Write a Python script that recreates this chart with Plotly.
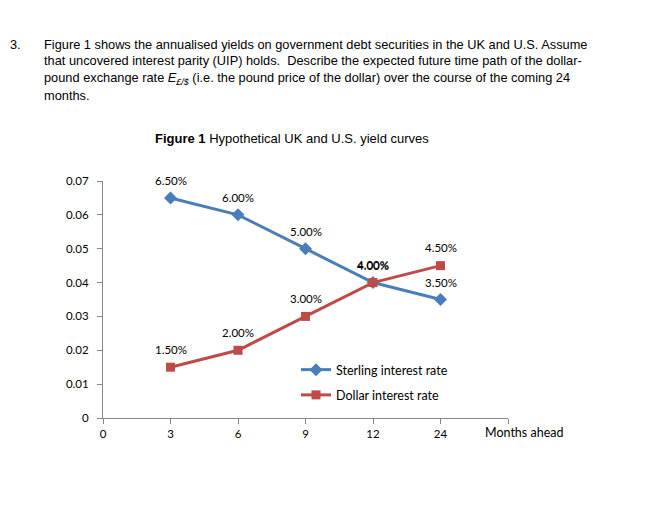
import plotly.graph_objects as go

# ---- data ----
month_labels = ["0", "3", "6", "9", "12", "24"]
months = ["3", "6", "9", "12", "24"]
sterling = [0.065, 0.06, 0.05, 0.04, 0.035]
dollar = [0.015, 0.02, 0.03, 0.04, 0.045]
sterling_labels = ["6.50%", "6.00%", "5.00%", "4.00%", "3.50%"]
dollar_labels = ["1.50%", "2.00%", "3.00%", "4.00%", "4.50%"]
y_ticks = [0, 0.01, 0.02, 0.03, 0.04, 0.05, 0.06, 0.07]
y_ticktext = ["0", "0.01", "0.02", "0.03", "0.04", "0.05", "0.06", "0.07"]

question_lines = [
    "Figure 1 shows the annualised yields on government debt securities in the UK and U.S. Assume",
    "that uncovered interest parity (UIP) holds.  Describe the expected future time path of the dollar-",
    "pound exchange rate <i>E</i><sub><i>£/$</i></sub> (i.e. the pound price of the dollar) over the course of the coming 24",
    "months.",
]

BLUE = "#4A7EBB"
RED = "#BE4B48"
W, H = 655, 506
L, R, T, B = 103, 147, 181, 88
PW, PH = W - L - R, H - T - B
CF = "Lato"


def px(xp):
    return (xp - L) / PW


def py(yp):
    return (H - B - yp) / PH


xpos = {lab: i for i, lab in enumerate(month_labels)}
xs = [xpos[m] for m in months]

fig = go.Figure()
fig.add_trace(go.Scatter(
    x=xs, y=sterling, mode="lines+markers", name="Sterling interest rate",
    line=dict(color=BLUE, width=3), marker=dict(symbol="diamond", size=10, color=BLUE),
    legendgroup="a",
))
fig.add_trace(go.Scatter(
    x=xs, y=dollar, mode="lines+markers", name="Dollar interest rate",
    line=dict(color=RED, width=3), marker=dict(symbol="square", size=9, color=RED),
    legendgroup="b",
))

annos = []
for x, y, t in zip(xs, sterling, sterling_labels):
    annos.append(dict(x=x, y=y, xref="x", yref="y", text=t, showarrow=False,
                      yshift=17, font=dict(family=CF, size=11.5, color="#000000")))
for x, y, t in zip(xs, dollar, dollar_labels):
    annos.append(dict(x=x, y=y, xref="x", yref="y", text=t, showarrow=False,
                      yshift=18, font=dict(family=CF, size=11.5, color="#000000")))

# axis title
annos.append(dict(x=px(483), y=py(432), xref="paper", yref="paper", text="Months ahead",
                  showarrow=False, xanchor="left", yanchor="middle",
                  font=dict(family=CF, size=12.5, color="#000000")))
# chart title
annos.append(dict(x=px(153), y=py(138), xref="paper", yref="paper",
                  text="<b>Figure 1</b> Hypothetical UK and U.S. yield curves",
                  showarrow=False, xanchor="left", yanchor="middle",
                  font=dict(family="Liberation Sans", size=13, color="#000000")))
# question text
annos.append(dict(x=px(8), y=py(44), xref="paper", yref="paper", text="3.",
                  showarrow=False, xanchor="left", yanchor="middle",
                  font=dict(family="Liberation Sans", size=12.8, color="#000000")))
for i, line in enumerate(question_lines):
    annos.append(dict(x=px(42), y=py(44 + 17 * i), xref="paper", yref="paper", text=line,
                      showarrow=False, xanchor="left", yanchor="middle",
                      font=dict(family="Liberation Sans", size=12.8, color="#000000")))

fig.update_layout(
    width=W, height=H,
    margin=dict(l=L, r=R, t=T, b=B, pad=0),
    paper_bgcolor="white", plot_bgcolor="white",
    showlegend=True,
    legend=dict(x=px(296), y=py(355), xanchor="left", yanchor="top",
                font=dict(family=CF, size=12.5, color="#000000"), tracegroupgap=6,
                bgcolor="rgba(0,0,0,0)", itemwidth=30),
    annotations=annos,
    xaxis=dict(range=[0, 6], tickvals=list(range(7)), ticktext=month_labels + [""],
               showgrid=False, zeroline=False, showline=True, linecolor="#868686", linewidth=1,
               ticks="outside", ticklen=5, tickcolor="#868686",
               tickfont=dict(family=CF, size=11.5, color="#000000"), fixedrange=True),
    yaxis=dict(range=[0, 0.07], tickvals=y_ticks, ticktext=y_ticktext,
               showgrid=False, zeroline=False, showline=True, linecolor="#868686", linewidth=1,
               ticks="outside", ticklen=5, tickcolor="#868686", ticklabelstandoff=6,
               tickfont=dict(family=CF, size=11.5, color="#000000"), fixedrange=True),
)

fig.write_html("out.html")
